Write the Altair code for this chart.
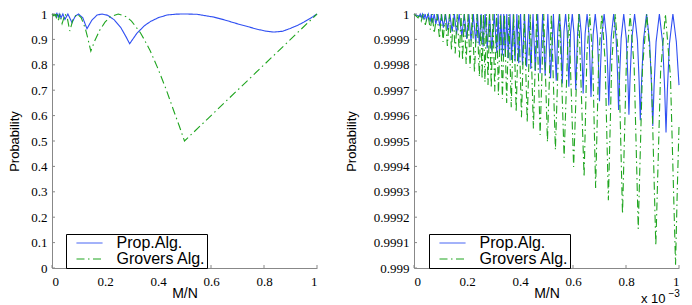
import altair as alt
import pandas as pd

BLUE = "#2f4ff2"
GREEN = "#1fa51f"
GRAY = "#888888"
PLOT_W = 265
PLOT_H = 254

series_names = ["Prop.Alg.", "Grovers Alg."]
x_ticks = [0.0, 0.2, 0.4, 0.6, 0.8, 1.0]
y_ticks_left = [0.0, 0.1, 0.2, 0.3, 0.4, 0.5, 0.6, 0.7, 0.8, 0.9, 1.0]
y_ticks_right = [0.999, 0.9991, 0.9992, 0.9993, 0.9994, 0.9995, 0.9996, 0.9997, 0.9998, 0.9999, 1.0]

# ---------- left panel (M/N from 0 to 1) ----------
left_prop_x = [0.0, 0.0102, 0.0112, 0.0123, 0.0137, 0.0152, 0.0171, 0.0192, 0.0220, 0.0250,
               0.0293, 0.0339, 0.0410, 0.0487, 0.0600, 0.0755, 0.0878, 0.100, 0.116, 0.132,
               0.150, 0.170, 0.189, 0.210, 0.235, 0.260, 0.280, 0.293, 0.321, 0.350,
               0.371, 0.400, 0.434, 0.470, 0.500, 0.547, 0.610, 0.650, 0.698, 0.740,
               0.774, 0.810, 0.837, 0.870, 0.899, 0.930, 0.950, 0.975, 1.0]
left_prop_y = [1.0, 0.9954, 1.0, 0.9945, 1.0, 0.9932, 1.0, 0.9914, 1.0, 0.9888,
               1.0, 0.9848, 1.0, 0.9785, 1.0, 0.966, 0.9915, 1.0, 0.9855, 0.942,
               0.975, 0.996, 1.0, 0.995, 0.977, 0.946, 0.909, 0.883, 0.925, 0.955,
               0.970, 0.985, 0.996, 0.9995, 1.0, 0.999, 0.988, 0.977, 0.962, 0.950,
               0.940, 0.932, 0.929, 0.932, 0.943, 0.957, 0.968, 0.983, 1.0]

left_grover_x = [0.0, 0.00616, 0.00682, 0.00760, 0.00851, 0.00961, 0.01093, 0.0125, 0.01453, 0.01704,
                 0.02025, 0.02447, 0.03015, 0.03806, 0.04952, 0.058, 0.06699, 0.08, 0.09549, 0.11,
                 0.125, 0.135, 0.14645, 0.16, 0.18, 0.20, 0.22, 0.25, 0.28, 0.30,
                 0.333, 0.35, 0.371, 0.40, 0.43, 0.46, 0.48, 0.5, 1.0]
left_grover_y = [1.0, 0.99384, 1.0, 0.9924, 1.0, 0.99039, 1.0, 0.9875, 1.0, 0.98296,
                 1.0, 0.97553, 1.0, 0.96194, 1.0, 0.983, 0.93301, 0.9812, 1.0, 0.9857,
                 0.9451, 0.9055, 0.85355, 0.8912, 0.9359, 0.968, 0.9889, 1.0, 0.9896, 0.972,
                 0.927, 0.896, 0.854, 0.7845, 0.705, 0.6173, 0.5599, 0.5, 1.0]

# ---------- right panel (M/N from 0 to 1e-3, x in units of 1e-3) ----------
right_prop_x = [0.0, 0.0195, 0.0235, 0.0275, 0.0323, 0.0372, 0.0420, 0.0469, 0.0539, 0.0609,
                0.0656, 0.0704, 0.0763, 0.0823, 0.0899, 0.0975, 0.1041, 0.1108, 0.1189, 0.1270,
                0.1354, 0.1438, 0.1522, 0.1606, 0.1705, 0.1804, 0.1897, 0.1991, 0.2071, 0.2151,
                0.2240, 0.2330, 0.2396, 0.2463, 0.2535, 0.2607, 0.2685, 0.2764, 0.2850, 0.2936,
                0.3030, 0.3125, 0.3175, 0.3226, 0.3279, 0.3332, 0.3387, 0.3443, 0.3501, 0.3560,
                0.3622, 0.3684, 0.3748, 0.3813, 0.3882, 0.3951, 0.4022, 0.4094, 0.4171, 0.4248,
                0.4328, 0.4408, 0.4492, 0.4577, 0.4668, 0.4759, 0.4854, 0.4949, 0.5051, 0.5154,
                0.5261, 0.5368, 0.54253, 0.54825, 0.55398, 0.5597, 0.56585, 0.5720, 0.57815, 0.5843,
                0.5908, 0.5973, 0.6038, 0.6103, 0.6173, 0.6243, 0.6313, 0.6383, 0.64573, 0.65315,
                0.66058, 0.668, 0.6712, 0.676, 0.684, 0.692, 0.6968, 0.700, 0.7035, 0.70875,
                0.7175, 0.72625, 0.7315, 0.735, 0.7387, 0.74425, 0.7535, 0.76275, 0.7683, 0.772,
                0.7759, 0.78175, 0.7915, 0.80125, 0.8071, 0.811, 0.8153, 0.82175, 0.8325, 0.84325,
                0.8497, 0.854, 0.8587, 0.86575, 0.8775, 0.88925, 0.8963, 0.901, 0.906, 0.9135,
                0.926, 0.9385, 0.946, 0.951, 0.9562, 0.964, 0.977, 0.990, 1.0]
right_prop_y = [1.0, 0.99999, 1.0, 0.999987, 1.0, 0.999982, 1.0, 0.999977, 1.0, 0.99997,
                1.0, 0.999966, 1.0, 0.99996, 1.0, 0.999952, 1.0, 0.999946, 1.0, 0.999938,
                1.0, 0.99993, 1.0, 0.999921, 1.0, 0.999912, 1.0, 0.999902, 1.0, 0.999895,
                1.0, 0.999886, 1.0, 0.999879, 1.0, 0.999872, 1.0, 0.999865, 1.0, 0.999856,
                1.0, 0.999847, 1.0, 0.999842, 1.0, 0.999837, 1.0, 0.999831, 1.0, 0.999826,
                1.0, 0.999819, 1.0, 0.999813, 1.0, 0.999806, 1.0, 0.999799, 1.0, 0.999792,
                1.0, 0.999784, 1.0, 0.999776, 1.0, 0.999767, 1.0, 0.999757, 1.0, 0.999747,
                1.0, 0.999737, 0.999934, 1.0, 0.999931, 0.999726, 0.999931, 1.0, 0.999928, 0.999714,
                0.999928, 1.0, 0.999925, 0.999701, 0.999925, 1.0, 0.999922, 0.999687, 0.999922, 1.0,
                0.999918, 0.999673, 0.999791, 0.999918, 1.0, 0.999914, 0.99978, 0.999657, 0.99978, 0.999914,
                1.0, 0.99991, 0.999769, 0.99964, 0.999769, 0.99991, 1.0, 0.999905, 0.999758, 0.999622,
                0.999758, 0.999905, 1.0, 0.999901, 0.999746, 0.999603, 0.999746, 0.999901, 1.0, 0.999895,
                0.999732, 0.999582, 0.999732, 0.999895, 1.0, 0.99989, 0.999717, 0.999559, 0.999717, 0.99989,
                1.0, 0.999884, 0.999702, 0.999534, 0.999702, 0.999884, 1.0, 0.99989, 0.99972]

right_grover_x = [0.0, 0.01542, 0.0214, 0.02742, 0.0351, 0.04284, 0.0523, 0.06169, 0.0689, 0.07615,
                  0.0863, 0.09638, 0.1030, 0.10966, 0.1178, 0.12589, 0.1338, 0.14161, 0.1485, 0.15542,
                  0.1634, 0.17135, 0.1774, 0.18337, 0.1900, 0.19670, 0.2041, 0.21154, 0.2198, 0.22813,
                  0.2374, 0.24674, 0.25175, 0.25691, 0.26224, 0.26773, 0.27340, 0.27925, 0.28528, 0.29152,
                  0.29796, 0.30462, 0.31150, 0.31862, 0.32599, 0.33361, 0.34151, 0.34969, 0.35816, 0.36695,
                  0.37607, 0.38553, 0.39535, 0.40556, 0.41616, 0.42718, 0.43865, 0.45058, 0.46301, 0.47596,
                  0.48947, 0.50355, 0.51825, 0.53361, 0.54965, 0.56644, 0.58400, 0.60239, 0.62167, 0.64188,
                  0.65249, 0.66310, 0.67425, 0.68539, 0.69711, 0.70882, 0.72115, 0.73347, 0.74645, 0.75943,
                  0.77312, 0.78680, 0.80124, 0.81567, 0.83092, 0.84616, 0.86228, 0.87839, 0.89545, 0.91250,
                  0.93057, 0.94863, 0.96780, 0.98696, 0.99350, 1.0]
right_grover_y = [1.0, 0.999985, 1.0, 0.999973, 1.0, 0.999957, 1.0, 0.999938, 1.0, 0.999924,
                  1.0, 0.999904, 1.0, 0.99989, 1.0, 0.999874, 1.0, 0.999858, 1.0, 0.999845,
                  1.0, 0.999829, 1.0, 0.999817, 1.0, 0.999803, 1.0, 0.999788, 1.0, 0.999772,
                  1.0, 0.999753, 1.0, 0.999743, 1.0, 0.999732, 1.0, 0.999721, 1.0, 0.999708,
                  1.0, 0.999695, 1.0, 0.999681, 1.0, 0.999666, 1.0, 0.999650, 1.0, 0.999633,
                  1.0, 0.999614, 1.0, 0.999594, 1.0, 0.999573, 1.0, 0.999549, 1.0, 0.999524,
                  1.0, 0.999496, 1.0, 0.999466, 1.0, 0.999434, 1.0, 0.999398, 1.0, 0.999358,
                  0.999840, 1.0, 0.999829, 0.999315, 0.999829, 1.0, 0.999817, 0.999267, 0.999817, 1.0,
                  0.999803, 0.999213, 0.999803, 1.0, 0.999788, 0.999154, 0.999788, 1.0, 0.999772, 0.999088,
                  0.999772, 1.0, 0.999753, 0.999013, 0.999307, 0.999558]


def frame(xs, ys, name):
    return pd.DataFrame({"x": xs, "y": ys, "series": name})


color_scale = alt.Scale(domain=series_names, range=[BLUE, GREEN])
dash_scale = alt.Scale(domain=series_names, range=[[1, 0], [8, 3.5, 1.5, 3.5]])


def panel(prop_df, grov_df, ydomain, yticks, title_pad, legend_x, extra=None):
    xs = alt.Scale(domain=[0, 1], nice=False, zero=False)
    ys = alt.Scale(domain=ydomain, nice=False, zero=False)
    xaxis = alt.Axis(values=x_ticks, format="~g", title="M/N", ticks=False, grid=False,
                     labelPadding=7, titlePadding=-2)
    yaxis = alt.Axis(values=yticks, format="~g", title="Probability", ticks=False, grid=False,
                     labelPadding=5, titlePadding=title_pad)
    leg = alt.Legend(title=None, orient="none", legendX=legend_x, legendY=PLOT_H - 34,
                     fillColor="white", strokeColor="black", padding=1, cornerRadius=0,
                     symbolType="M-2.6,0H2.6", symbolSize=100, symbolStrokeWidth=1,
                     symbolOffset=14.5, labelOffset=19, labelFont="Liberation Sans",
                     labelFontSize=16, labelColor="black", rowPadding=0)
    enc = dict(
        x=alt.X("x:Q", scale=xs, axis=xaxis),
        y=alt.Y("y:Q", scale=ys, axis=yaxis),
        color=alt.Color("series:N", scale=color_scale, legend=leg),
        strokeDash=alt.StrokeDash("series:N", scale=dash_scale, legend=leg),
    )
    blue = alt.Chart(prop_df).mark_line(strokeWidth=1.1).encode(**enc)
    green = alt.Chart(grov_df).mark_line(strokeWidth=1.1).encode(**enc)
    xt = alt.Chart(pd.DataFrame({"x": x_ticks})).mark_rule(color=GRAY, strokeWidth=1).encode(
        x=alt.X("x:Q", scale=xs, axis=xaxis), y=alt.value(PLOT_H), y2=alt.value(PLOT_H - 3))
    yt = alt.Chart(pd.DataFrame({"y": yticks})).mark_rule(color=GRAY, strokeWidth=1).encode(
        y=alt.Y("y:Q", scale=ys, axis=yaxis), x=alt.value(0), x2=alt.value(3))
    layers = [blue, green, xt, yt]
    if extra:
        layers += extra
    return alt.layer(*layers).properties(width=PLOT_W, height=PLOT_H)


left = panel(frame(left_prop_x, left_prop_y, series_names[0]),
             frame(left_grover_x, left_grover_y, series_names[1]),
             [0, 1], y_ticks_left, 9, 14)

exp_base = alt.Chart(pd.DataFrame({"t": ["x 10"]})).mark_text(
    align="left", baseline="alphabetic", font="Liberation Sans", fontSize=13, color="black"
).encode(text="t:N", x=alt.value(227), y=alt.value(288.5))
exp_sup = alt.Chart(pd.DataFrame({"t": ["\u22123"]})).mark_text(
    align="left", baseline="alphabetic", font="Liberation Sans", fontSize=10, color="black"
).encode(text="t:N", x=alt.value(254.5), y=alt.value(283))

right = panel(frame(right_prop_x, right_prop_y, series_names[0]),
              frame(right_grover_x, right_grover_y, series_names[1]),
              [0.999, 1.0], y_ticks_right, 14.5, 15, extra=[exp_base, exp_sup])

chart = alt.hconcat(left, right, spacing=25).resolve_scale(
    color="independent", strokeDash="independent"
).properties(
    padding={"left": 0, "top": 0, "right": 0, "bottom": 0}
).configure_view(stroke=None).configure_axis(
    domainColor=GRAY, domainWidth=1,
    labelFont="Liberation Serif", labelFontSize=13, labelColor="black",
    titleFont="Liberation Sans", titleFontSize=13, titleFontWeight="normal", titleColor="black",
).configure_axisX(titleFontSize=14)

chart.save("out.html", embed_options={"renderer": "svg", "actions": False})
